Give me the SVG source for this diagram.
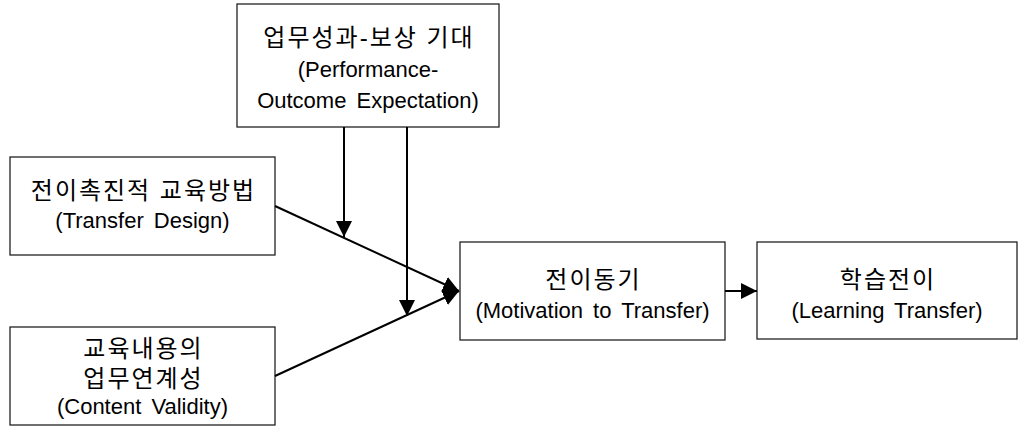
<svg xmlns="http://www.w3.org/2000/svg" width="1018" height="426" viewBox="0 0 1018 426">
<style>
.box{fill:#fff;stroke:#222;stroke-width:1.3}
.ko{font-family:"Liberation Sans","Noto Sans CJK KR",sans-serif;font-size:24px;fill:#000;text-anchor:middle;letter-spacing:2px}
.en{font-family:"Liberation Sans","Noto Sans CJK KR",sans-serif;font-size:22px;fill:#000;text-anchor:middle;word-spacing:4px}
.edge{stroke:#000;stroke-width:2;fill:none}
</style>
<defs>
<marker id="ah" viewBox="0 0 16 16" refX="16" refY="8" markerWidth="16" markerHeight="16" markerUnits="userSpaceOnUse" orient="auto">
<path d="M0,0 L16,8 L0,16 Z" fill="#000"/>
</marker>
</defs>
<g id="node-expectation">
<rect class="box" x="237" y="4" width="262" height="123"/>
<text class="ko" x="369" y="46">업무성과-보상 기대</text>
<text class="en" x="368" y="77">(Performance-</text>
<text class="en" x="368" y="108">Outcome Expectation)</text>
</g>
<g id="node-design">
<rect class="box" x="10" y="157" width="265" height="98"/>
<text class="ko" x="143.5" y="199">전이촉진적 교육방법</text>
<text class="en" x="142.5" y="228">(Transfer Design)</text>
</g>
<g id="node-validity">
<rect class="box" x="10" y="327" width="265" height="98"/>
<text class="ko" x="143.5" y="357">교육내용의</text>
<text class="ko" x="143.5" y="387">업무연계성</text>
<text class="en" x="142.5" y="414">(Content Validity)</text>
</g>
<g id="node-motivation">
<rect class="box" x="460" y="242" width="265" height="98"/>
<text class="ko" x="593.5" y="288">전이동기</text>
<text class="en" x="592.5" y="318">(Motivation to Transfer)</text>
</g>
<g id="node-learning">
<rect class="box" x="757" y="242" width="260" height="97"/>
<text class="ko" x="888" y="288">학습전이</text>
<text class="en" x="887" y="318">(Learning Transfer)</text>
</g>
<g id="connectors">
<line class="edge" x1="275" y1="206" x2="459" y2="291" marker-end="url(#ah)"/>
<line class="edge" x1="275" y1="376" x2="459" y2="291" marker-end="url(#ah)"/>
<line class="edge" x1="344" y1="127" x2="344" y2="237" marker-end="url(#ah)"/>
<line class="edge" x1="407" y1="127" x2="407" y2="316" marker-end="url(#ah)"/>
<line class="edge" x1="725" y1="291" x2="757" y2="291" marker-end="url(#ah)"/>
</g>
</svg>
